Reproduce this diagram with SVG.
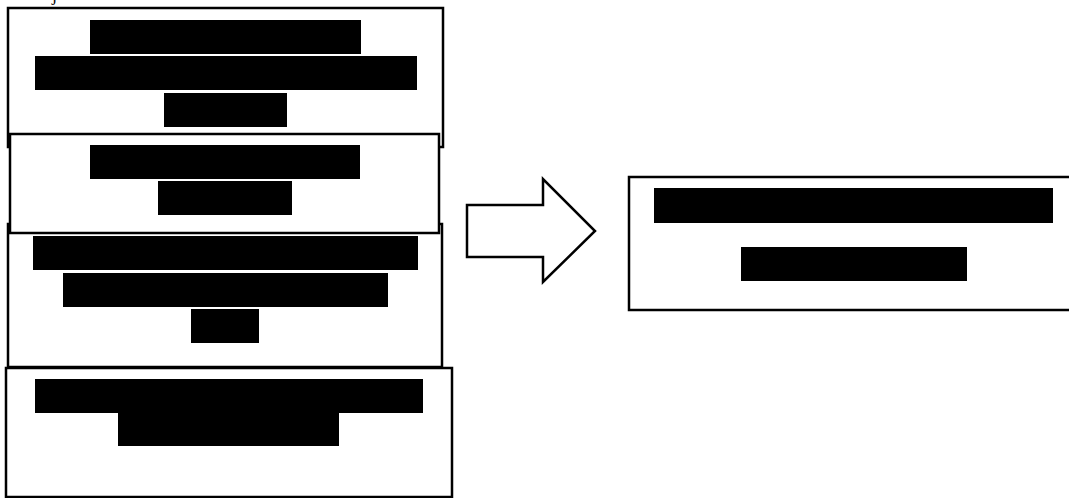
<svg xmlns="http://www.w3.org/2000/svg" width="1069" height="498" viewBox="0 0 1069 498">
  <style>
    .box { fill: #ffffff; stroke: #000000; stroke-width: 2.5; }
    .bar { fill: #000000; }
    .arrow { fill: #ffffff; stroke: #000000; stroke-width: 2.5; stroke-linejoin: miter; }
    .cap { font-family: "Liberation Serif", serif; font-size: 18px; fill: #000000; }
  </style>
  <rect x="0" y="0" width="1069" height="498" fill="#ffffff"/>

  <!-- clipped caption at the top edge -->
  <text class="cap" x="52" y="1">j</text>

  <!-- stacked source panels (second panel overlaps its neighbours) -->
  <g id="panel-1">
    <rect class="box" x="8" y="8" width="435" height="139"/>
    <rect class="bar" x="90" y="20" width="271" height="34"/>
    <rect class="bar" x="35" y="56" width="382" height="34"/>
    <rect class="bar" x="164" y="93" width="123" height="34"/>
  </g>

  <g id="panel-3">
    <rect class="box" x="8" y="224" width="434" height="143"/>
    <rect class="bar" x="33" y="236" width="385" height="34"/>
    <rect class="bar" x="63" y="273" width="325" height="34"/>
    <rect class="bar" x="191" y="309" width="68" height="34"/>
  </g>

  <g id="panel-2">
    <rect class="box" x="10" y="134" width="429" height="99"/>
    <rect class="bar" x="90" y="145" width="270" height="34"/>
    <rect class="bar" x="158" y="181" width="134" height="34"/>
  </g>

  <g id="panel-4">
    <rect class="box" x="6" y="368" width="446" height="129"/>
    <rect class="bar" x="35" y="379" width="388" height="34"/>
    <rect class="bar" x="118" y="412" width="221" height="34"/>
  </g>

  <!-- block arrow between the stack and the result panel -->
  <g id="connectors">
    <polygon class="arrow" points="467,205 543,205 543,179 595,231 543,282 543,257 467,257"/>
  </g>

  <!-- result panel, running off the right edge -->
  <g id="result">
    <rect class="box" x="629" y="177" width="460" height="133"/>
    <rect class="bar" x="654" y="188" width="399" height="35"/>
    <rect class="bar" x="741" y="247" width="226" height="34"/>
  </g>
</svg>
